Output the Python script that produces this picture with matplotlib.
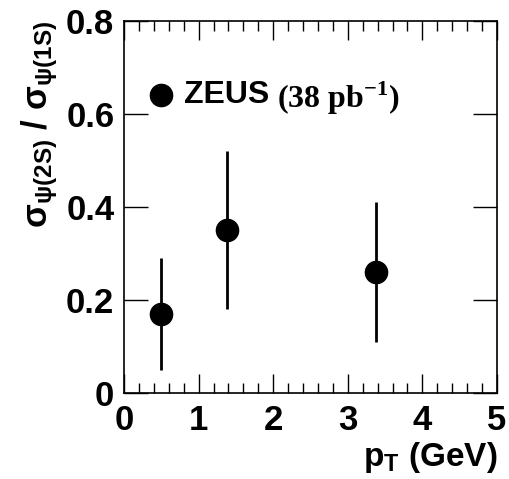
import matplotlib
matplotlib.use('Agg')
import matplotlib.pyplot as plt
from matplotlib.ticker import MultipleLocator

# ZEUS psi(2S)/J/psi ratio vs pT
pt = [0.5, 1.38, 3.38]
ratio = [0.17, 0.35, 0.26]
err_lo = [0.12, 0.17, 0.15]
err_hi = [0.12, 0.17, 0.15]
xticks = [0, 1, 2, 3, 4, 5]
yticks = [0, 0.2, 0.4, 0.6, 0.8]
ytick_labels = ['0', '0.2', '0.4', '0.6', '0.8']

plt.rcParams['font.family'] = ['Liberation Sans', 'DejaVu Sans']
plt.rcParams['mathtext.fontset'] = 'custom'
plt.rcParams['mathtext.rm'] = 'Liberation Sans:bold'
plt.rcParams['mathtext.it'] = 'Liberation Sans:bold'
plt.rcParams['mathtext.bf'] = 'Liberation Sans:bold'

fig = plt.figure(figsize=(5.1, 4.79), dpi=100)
ax = fig.add_axes([124 / 510, 1 - 393 / 479, 373 / 510, 372 / 479])

ax.errorbar(pt, ratio, yerr=[err_lo, err_hi], fmt='o', color='black',
            markersize=16, elinewidth=2, capsize=0)

ax.set_xlim(0, 5)
ax.set_ylim(0, 0.8)
ax.set_xticks(xticks, [str(t) for t in xticks], fontweight='bold')
ax.set_yticks(yticks, ytick_labels, fontweight='bold')
ax.xaxis.set_minor_locator(MultipleLocator(0.2))
ax.tick_params(which='both', direction='in', top=True, right=True,
               labelsize=25, width=1)
ax.tick_params(which='major', length=14)
ax.tick_params(which='minor', length=7)
ax.tick_params(axis='y', which='major', length=17, pad=7)
ax.tick_params(axis='x', which='major', pad=8)
for s in ax.spines.values():
    s.set_linewidth(1.2)

ax.set_xlabel(r'$\mathregular{p_T}$ (GeV)', fontsize=24, fontweight='bold',
              loc='right', labelpad=2)
ax.set_ylabel(r'$\mathregular{\sigma_{\psi(2S)}}$ / $\mathregular{\sigma_{\psi(1S)}}$',
              fontsize=25, fontweight='bold', loc='top', labelpad=4)

# legend drawn by hand like the original
ax.plot([0.5], [0.64], 'o', color='black', markersize=16)
ax.text(0.8, 0.64, 'ZEUS', fontsize=23, fontweight='bold', va='center')
ax.text(2.05, 0.635, r'(38 pb$^{\mathregular{-1}}$)', fontsize=23,
        fontweight='bold', va='center', family=['Liberation Serif'],
        math_fontfamily='dejavuserif')

fig.savefig('out.png', dpi=100)
